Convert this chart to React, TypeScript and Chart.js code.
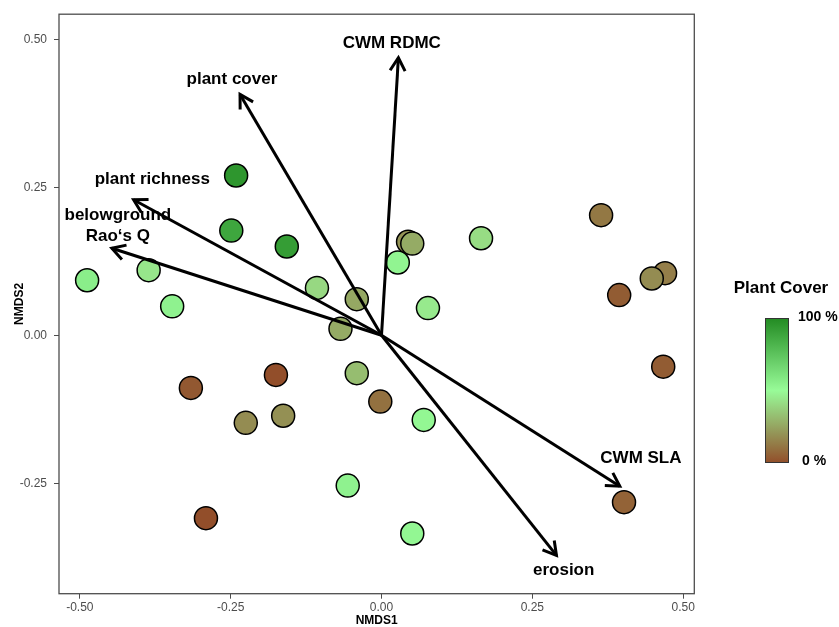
import React, { useEffect, useRef } from "react";
import { Chart, registerables } from "chart.js";

Chart.register(...registerables);

// Site scores (NMDS1, NMDS2) and plant cover (%)
const siteX = [-0.241, -0.249, -0.157, -0.488, -0.386, -0.347, -0.107, -0.041, -0.068, -0.041, -0.002, 0.027, 0.044, 0.051, 0.077, 0.165, 0.364, 0.470, 0.448, 0.394, 0.467, 0.402, 0.070, 0.051, -0.056, -0.291, -0.316, -0.175, -0.225, -0.163];
const siteY = [0.270, 0.177, 0.150, 0.093, 0.110, 0.049, 0.080, 0.061, 0.011, -0.064, -0.112, 0.123, 0.158, 0.155, 0.046, 0.164, 0.203, 0.105, 0.096, 0.068, -0.053, -0.282, -0.143, -0.335, -0.254, -0.309, -0.089, -0.067, -0.148, -0.136];
const siteCover = [95, 88, 92, 56, 44, 54, 40, 26, 27, 32, 10, 53, 20, 27, 45, 41, 12, 14, 18, 4, 4, 6, 52, 52, 54, 0, 3, 0, 18, 19];

// Environmental vectors (arrow tips) and their labels
const vecNames = ["CWM RDMC", "plant cover", "plant richness", "belowground\nRao\u2018s Q", "CWM SLA", "erosion"];
const vecX = [0.028, -0.2345, -0.411, -0.447, 0.395, 0.290];
const vecY = [0.469, 0.407, 0.229, 0.147, -0.255, -0.372];
const labelX = [0.017, -0.248, -0.380, -0.437, 0.430, 0.302];
const labelY = [0.494, 0.433, 0.263, 0.185, -0.208, -0.397];

const xTicks = [-0.5, -0.25, 0, 0.25, 0.5];
const yTicks = [-0.25, 0, 0.25, 0.5];
const xTitle = "NMDS1";
const yTitle = "NMDS2";
const legendTitle = "Plant Cover";
const legendHigh = "100 %";
const legendLow = "0 %";

const LOW = [146, 78, 42];
const MID = [152, 251, 152];
const HIGH = [34, 139, 34];

function coverColor(v: number): string {
  const t = Math.max(0, Math.min(100, v)) / 100;
  let a: number[], b: number[], f: number;
  if (t <= 0.5) { a = LOW; b = MID; f = t / 0.5; } else { a = MID; b = HIGH; f = (t - 0.5) / 0.5; }
  const c = a.map((x, i) => Math.round(x + (b[i] - x) * f));
  return `rgb(${c[0]},${c[1]},${c[2]})`;
}

const FONT = "'Liberation Sans', Arial, Helvetica, sans-serif";

const annotationPlugin = {
  id: "annot",
  afterDatasetsDraw(chart: any) {
    const { ctx, chartArea, scales } = chart;
    const xs = scales.x, ys = scales.y;
    ctx.save();
    // arrowheads
    ctx.strokeStyle = "#000";
    ctx.lineWidth = 3;
    ctx.lineCap = "butt";
    ctx.lineJoin = "miter";
    const ox = xs.getPixelForValue(0), oy = ys.getPixelForValue(0);
    for (let i = 0; i < vecX.length; i++) {
      const tx = xs.getPixelForValue(vecX[i]);
      const ty = ys.getPixelForValue(vecY[i]);
      const ang = Math.atan2(ty - oy, tx - ox);
      const L = 15, A = Math.PI / 6;
      ctx.beginPath();
      ctx.moveTo(tx - L * Math.cos(ang - A), ty - L * Math.sin(ang - A));
      ctx.lineTo(tx, ty);
      ctx.lineTo(tx - L * Math.cos(ang + A), ty - L * Math.sin(ang + A));
      ctx.stroke();
    }
    // labels
    ctx.fillStyle = "#000";
    ctx.font = `bold 17px ${FONT}`;
    ctx.textAlign = "center";
    ctx.textBaseline = "middle";
    for (let i = 0; i < vecNames.length; i++) {
      const lines = vecNames[i].split("\n");
      const cx = xs.getPixelForValue(labelX[i]);
      const cy = ys.getPixelForValue(labelY[i]);
      const lh = 21;
      lines.forEach((ln, k) => {
        ctx.fillText(ln, cx, cy + (k - (lines.length - 1) / 2) * lh);
      });
    }
    // panel border
    ctx.strokeStyle = "#4d4d4d";
    ctx.lineWidth = 1.3;
    ctx.strokeRect(chartArea.left, chartArea.top, chartArea.right - chartArea.left, chartArea.bottom - chartArea.top);
    // axis titles
    ctx.fillStyle = "#000";
    ctx.font = `bold 12px ${FONT}`;
    ctx.fillText(xTitle, (chartArea.left + chartArea.right) / 2, 621);
    ctx.save();
    ctx.translate(20, (chartArea.top + chartArea.bottom) / 2);
    ctx.rotate(-Math.PI / 2);
    ctx.fillText(yTitle, 0, 0);
    ctx.restore();
    // colour legend
    ctx.font = `bold 17px ${FONT}`;
    ctx.textAlign = "center";
    ctx.fillText(legendTitle, 781, 288);
    const bx = 765, by = 318, bw = 24, bh = 145;
    const g = ctx.createLinearGradient(0, by + bh, 0, by);
    for (let s = 0; s <= 20; s++) g.addColorStop(s / 20, coverColor(s * 5));
    ctx.fillStyle = g;
    ctx.fillRect(bx, by, bw, bh);
    ctx.strokeStyle = "#333";
    ctx.lineWidth = 1;
    ctx.strokeRect(bx + 0.5, by + 0.5, bw - 1, bh - 1);
    ctx.fillStyle = "#000";
    ctx.font = `bold 14px ${FONT}`;
    ctx.textAlign = "left";
    ctx.fillText(legendHigh, 798, 317);
    ctx.fillText(legendLow, 802, 461);
    ctx.restore();
  },
};

export default function App() {
  const ref = useRef<HTMLCanvasElement>(null);
  useEffect(() => {
    if (!ref.current) return;
    const arrowSets = vecX.map((vx, i) => ({
      type: "line" as const,
      label: vecNames[i],
      data: [{ x: 0, y: 0 }, { x: vx, y: vecY[i] }],
      showLine: true,
      borderColor: "#000",
      borderWidth: 3,
      pointRadius: 0,
      pointHoverRadius: 0,
      fill: false,
      order: 0,
    }));
    const chart = new Chart(ref.current, {
      type: "scatter",
      data: {
        datasets: [
          ...arrowSets,
          {
            label: "sites",
            data: siteX.map((x, i) => ({ x, y: siteY[i] })),
            backgroundColor: siteCover.map(coverColor),
            borderColor: "#000",
            borderWidth: 1.5,
            pointRadius: 11.5,
            pointHoverRadius: 11.5,
            order: 1,
          } as any,
        ],
      },
      options: {
        animation: false,
        responsive: false,
        events: [],
        layout: { padding: { left: 0, top: 12, right: 144.7, bottom: 0 } },
        plugins: { legend: { display: false }, tooltip: { enabled: false } },
        scales: {
          x: {
            type: "linear",
            min: -0.5346,
            max: 0.5185,
            afterFit: (s: any) => { s.height = 33.3; },
            afterBuildTicks: (s: any) => { s.ticks = xTicks.map((v) => ({ value: v })); },
            ticks: {
              includeBounds: false,
              callback: (v: any) => Number(v).toFixed(2),
              color: "#4d4d4d",
              font: { size: 12, family: FONT },
              padding: 2,
              maxRotation: 0,
            },
            grid: { drawOnChartArea: false, drawTicks: true, tickLength: 5, color: "#4d4d4d" },
            border: { display: false },
          },
          y: {
            type: "linear",
            min: -0.4367,
            max: 0.5426,
            afterFit: (s: any) => { s.width = 59; },
            afterBuildTicks: (s: any) => { s.ticks = yTicks.map((v) => ({ value: v })); },
            ticks: {
              includeBounds: false,
              callback: (v: any) => Number(v).toFixed(2),
              color: "#4d4d4d",
              font: { size: 12, family: FONT },
              padding: 7,
            },
            grid: { drawOnChartArea: false, drawTicks: true, tickLength: 5, color: "#4d4d4d" },
            border: { display: false },
          },
        },
      } as any,
      plugins: [annotationPlugin],
    });
    return () => chart.destroy();
  }, []);
  return (
    <div style={{ position: "fixed", left: 0, top: 0, width: 839, height: 627, background: "#fff" }}>
      <canvas ref={ref} width={839} height={627} style={{ display: "block" }} />
    </div>
  );
}
